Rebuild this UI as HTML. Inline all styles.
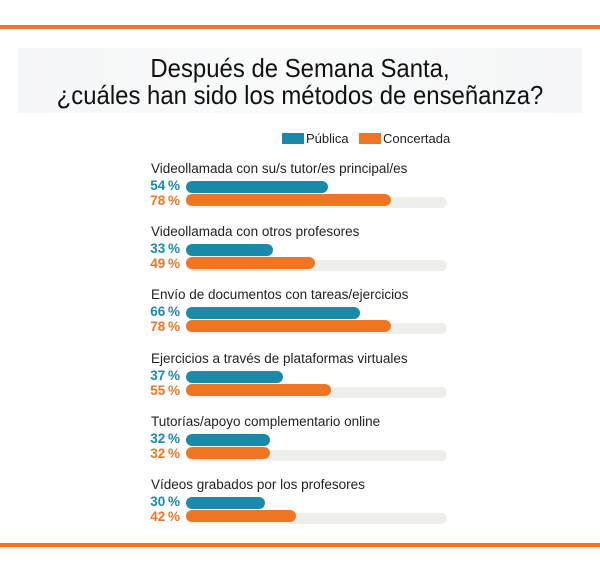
<!DOCTYPE html>
<html><head><meta charset="utf-8"><style>
body{margin:0;width:600px;height:572px;background:#fff;font-family:"Liberation Sans",sans-serif;position:relative;overflow:hidden}
.line{position:absolute;left:0;width:600px;height:4px;background:#f07522}
.tbox{position:absolute;left:18px;top:48px;width:564px;height:65px;background:linear-gradient(90deg,#f5f6f7,#fafbfb,#f5f6f7)}
.title{position:absolute;left:0;width:600px;text-align:center;top:55px;font-size:26px;line-height:27px;color:#111;transform:scaleX(0.92)}
.leg{position:absolute;top:131px;font-size:13px;color:#222}
.sw{position:absolute;top:133px;width:22px;height:11px}
.lab{position:absolute;left:151px;font-size:13.5px;color:#222;white-space:nowrap}
.pct{position:absolute;width:40px;left:140px;text-align:right;font-size:13.5px;font-weight:bold}
.bar{position:absolute;left:186px;height:12px;border-radius:6px}
.track{position:absolute;left:186px;width:261px;height:11px;border-radius:6px;background:#eeeeea}
</style></head><body>
<div class="line" style="top:25px"></div>
<div class="line" style="top:543px"></div>
<div class="tbox"></div>
<div class="title">Después de Semana Santa,<br>¿cuáles han sido los métodos de enseñanza?</div>
<div class="sw" style="left:282px;background:#1a8aab"></div><div class="leg" style="left:306px">Pública</div>
<div class="sw" style="left:359px;background:#f07522"></div><div class="leg" style="left:383px">Concertada</div>
<div id="rows"></div>
<script>
var d=[["Videollamada con su/s tutor/es principal/es",54,78],["Videollamada con otros profesores",33,49],["Envío de documentos con tareas/ejercicios",66,78],["Ejercicios a través de plataformas virtuales",37,55],["Tutorías/apoyo complementario online",32,32],["Vídeos grabados por los profesores",30,42]];
var h="";d.forEach(function(r,i){var y=170+63.2*i;
h+='<div class="lab" style="top:'+(y-9)+'px">'+r[0]+'</div>';
h+='<div class="track" style="top:'+(y+27)+'px"></div>';
h+='<div class="pct" style="top:'+(y+8)+'px;color:#1a8aab">'+r[1]+'\u2009%</div>';
h+='<div class="pct" style="top:'+(y+23)+'px;color:#f07522">'+r[2]+'\u2009%</div>';
h+='<div class="bar" style="top:'+(y+11)+'px;width:'+(r[1]*2.63)+'px;background:#1a8aab"></div>';
h+='<div class="bar" style="top:'+(y+24)+'px;width:'+(r[2]*2.63)+'px;background:#f07522"></div>';});
document.getElementById("rows").innerHTML=h;
</script>
</body></html>
